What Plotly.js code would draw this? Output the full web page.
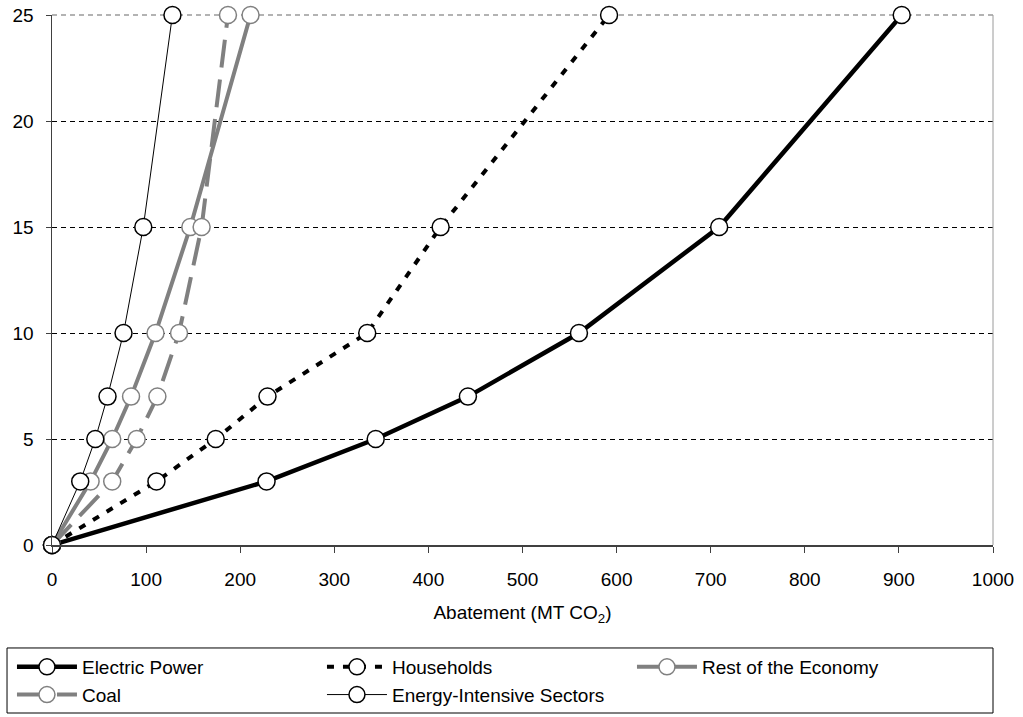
<!DOCTYPE html>
<html>
<head>
<meta charset="utf-8">
<script src="https://cdn.plot.ly/plotly-3.0.1.min.js"></script>
<style>html,body{margin:0;padding:0;background:#fff;}#chart{width:1023px;height:717px;}</style>
</head>
<body>
<div id="chart"></div>
<script>
const taxLevels = [0, 3, 5, 7, 10, 15, 25];
const electricPower = [0, 228, 344, 442, 560, 709, 903];
const households = [0, 111, 174, 229, 335, 413, 592];
const restOfEconomy = [0, 41, 64, 84, 110, 147, 211];
const coal = [0, 64, 90, 112, 135, 159, 187];
const energyIntensive = [0, 30, 46, 59, 76, 97, 128];
const xTicks = [0, 100, 200, 300, 400, 500, 600, 700, 800, 900, 1000];
const yTicks = [0, 5, 10, 15, 20, 25];

function series(name, xs, color, width, dash, mcolor) {
  return {
    type: 'scatter', mode: 'lines+markers', name: name,
    x: xs, y: taxLevels, cliponaxis: false,
    line: {color: color, width: width, dash: dash},
    marker: {symbol: 'circle', size: 17, color: '#ffffff', line: {color: mcolor, width: 1.5}}
  };
}

const data = [
  series('Electric Power', electricPower, '#000000', 4.5, 'solid', '#000000'),
  series('Households', households, '#000000', 4, '7px,9px', '#000000'),
  series('Rest of the Economy', restOfEconomy, '#808080', 4, 'solid', '#808080'),
  series('Coal', coal, '#808080', 4, '28px,12px', '#808080'),
  series('Energy-Intensive Sectors', energyIntensive, '#000000', 1, 'solid', '#000000')
];

const layout = {
  width: 1023, height: 717,
  margin: {l: 52, r: 30, t: 15, b: 172},
  paper_bgcolor: '#ffffff', plot_bgcolor: '#ffffff',
  font: {family: 'Liberation Sans, Arial, sans-serif', size: 19, color: '#000000'},
  showlegend: true,
  xaxis: {
    range: [0, 1000], tickvals: xTicks, ticktext: xTicks.map(String),
    showgrid: false, zeroline: false,
    showline: true, linecolor: '#404040', linewidth: 1.5,
    ticks: 'outside', ticklen: 6, tickcolor: '#404040', tickwidth: 1,
    ticklabelstandoff: 11, automargin: false,
    title: {text: 'Abatement (MT CO<sub>2</sub>)', font: {size: 19}, standoff: 16}
  },
  yaxis: {
    range: [0, 25], tickvals: yTicks, ticktext: yTicks.map(String),
    showgrid: true, gridcolor: '#000000', gridwidth: 1, griddash: '5px,4px',
    zeroline: false,
    showline: true, linecolor: '#404040', linewidth: 1.5,
    ticks: 'outside', ticklen: 5, tickcolor: '#404040', tickwidth: 1,
    ticklabelstandoff: 8, automargin: false
  },
  shapes: [
    {type: 'line', xref: 'paper', yref: 'paper', x0: 1, x1: 1, y0: 0, y1: 1,
     line: {color: '#9a9a9a', width: 1}},
    {type: 'line', xref: 'paper', yref: 'paper', x0: 0, x1: 1, y0: 1, y1: 1,
     line: {color: '#9a9a9a', width: 1.5, dash: '5px,4px'}, layer: 'below'},
    {type: 'rect', xref: 'paper', yref: 'paper', x0: -0.0478, x1: 1.0, y0: -0.317, y1: -0.1943,
     line: {color: '#000000', width: 1}, fillcolor: 'rgba(0,0,0,0)'}
  ],
  legend: {
    orientation: 'h', xref: 'container', yref: 'container',
    x: 0.0117, xanchor: 'left', y: 0.0962, yanchor: 'top',
    borderwidth: 0, bgcolor: 'rgba(0,0,0,0)',
    entrywidth: 235, entrywidthmode: 'pixels', itemwidth: 60,
    font: {size: 19}, tracegroupgap: 0
  }
};

Plotly.newPlot('chart', data, layout, {displayModeBar: false, staticPlot: true});
</script>
</body>
</html>
